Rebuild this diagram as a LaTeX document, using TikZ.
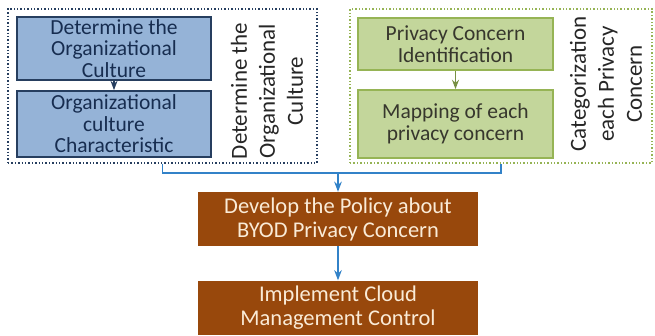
\documentclass[tikz,border=0pt]{standalone}
\usepackage{fontspec}
\setmainfont{Carlito}
\usetikzlibrary{arrows.meta,positioning,fit,calc}
\definecolor{cultfill}{RGB}{149,179,215}
\definecolor{cultline}{RGB}{38,62,95}
\definecolor{culttext}{RGB}{23,45,80}
\definecolor{privfill}{RGB}{195,214,155}
\definecolor{privline}{RGB}{150,180,85}
\definecolor{privtext}{RGB}{55,55,45}
\definecolor{policy}{RGB}{152,72,12}
\definecolor{policytext}{RGB}{250,235,215}
\definecolor{flow}{RGB}{50,130,200}
\tikzset{
  >=Stealth,
  font=\fontsize{21.5}{21.5}\selectfont,
  cult/.style  ={draw=cultline, line width=1.8pt, fill=cultfill, text=culttext, minimum width=194pt, align=center, inner sep=0pt},
  priv/.style  ={draw=privline, line width=1.8pt, fill=privfill, text=privtext, minimum width=195pt, align=center, inner sep=0pt},
  pol/.style   ={fill=policy, text=policytext, minimum width=280pt, minimum height=54pt, align=center, inner sep=0pt,
                 font=\fontsize{22.5}{24}\selectfont},
  grp/.style   ={draw, dotted, line width=1.4pt, inner sep=0pt},
  side/.style  ={rotate=90, align=center, text=black!85, font=\fontsize{23}{28}\selectfont},
  arr/.style   ={->, line width=1.6pt, flow},
}

\begin{document}
\begin{tikzpicture}[x=1pt,y=-1pt]
  \useasboundingbox (0,0) rectangle (655,335);

  % organisational culture
  \node[cult, minimum height=63pt] (detcult) at (114,48.5) {Determine the\\Organizational\\Culture};
  \node[cult, minimum height=66pt] (cultchar) at (114,124) {Organizational\\culture\\Characteristic};
  \draw[->, cultline, line width=1.4pt] (detcult) -- (cultchar);
  \node[side] (cultlbl) at (267,91) {Determine the\\Organizational\\Culture};
  \node[grp, draw=cultline, fit={(8,9) (317,163)}] (cultgrp) {};

  % privacy concerns
  \node[priv, minimum height=52pt] (privid) at (455.5,44) {Privacy Concern\\Identification};
  \node[priv, minimum height=68pt] (privmap) at (455.5,124) {Mapping of each\\privacy concern};
  \draw[->, privline!80!black, line width=1.4pt] (privid) -- (privmap);
  \node[side] (privlbl) at (606,84) {Categorization\\each Privacy\\Concern};
  \node[grp, draw=privline, fit={(350,9) (652,163)}] (privgrp) {};

  % policy and control
  \node[pol] (policy) at (338,219) {Develop the Policy about\\BYOD Privacy Concern};
  \node[pol] (control) at (338,307.5) {Implement Cloud\\Management Control};

  \coordinate (join) at (policy.north |- 0,173);
  \draw[flow, line width=1.6pt] (cultgrp.south) |- (join) -| (privgrp.south);
  \draw[arr] (join) -- (policy);
  \draw[arr] (policy) -- (control);
\end{tikzpicture}
\end{document}
